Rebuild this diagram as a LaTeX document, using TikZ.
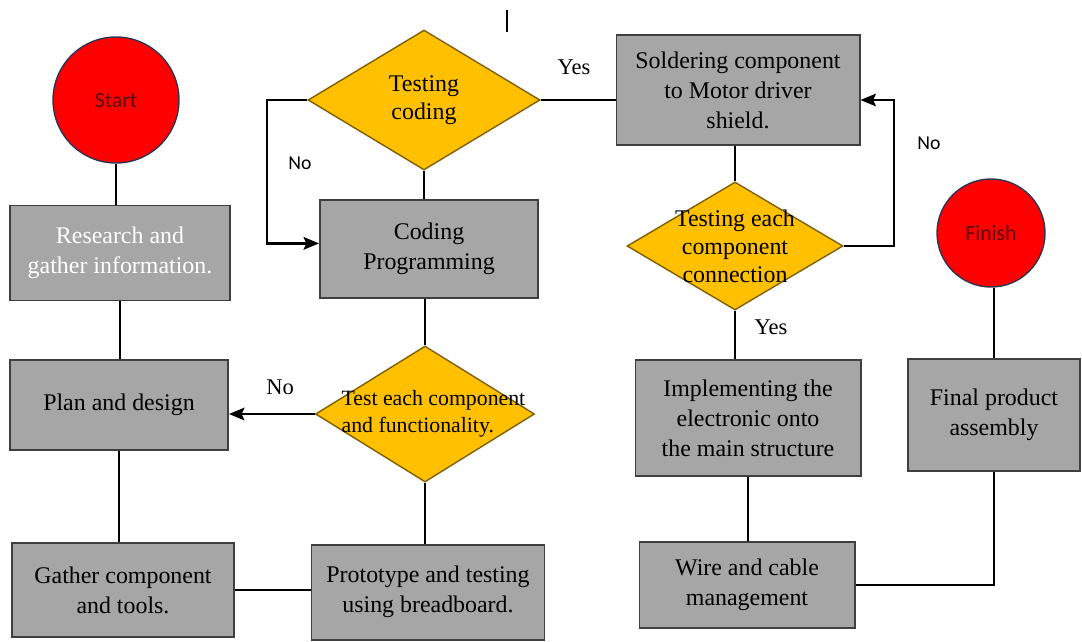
\documentclass[tikz,border=0pt]{standalone}
\usepackage{fontspec}
\setmainfont{Liberation Serif}
\newfontfamily\calibri{Carlito}
\usetikzlibrary{shapes}
\usetikzlibrary{shapes.geometric}
\usetikzlibrary{arrows}
\usetikzlibrary{arrows.meta}
\usetikzlibrary{positioning}

\definecolor{boxgray}{HTML}{A6A6A6}
\definecolor{boxline}{HTML}{3F3F3F}
\definecolor{decfill}{HTML}{FFC000}
\definecolor{decline}{HTML}{7F6000}
\definecolor{termline}{HTML}{2F3550}
\definecolor{termtext}{HTML}{5A0A0A}

\tikzset{
  procbox/.style={rectangle, draw=boxline, line width=1.4pt, fill=boxgray,
    align=center, font=\fontsize{17}{21.3}\selectfont, inner sep=0pt},
  decision/.style={diamond, draw=decline, line width=1pt, fill=decfill,
    inner sep=0pt, aspect=1.6},
  dtext/.style={align=center, font=\fontsize{17}{20}\selectfont},
  terminal/.style={circle, draw=termline, line width=1pt, fill=red,
    text=termtext, font=\calibri\fontsize{15.5}{18}\selectfont},
  lbl/.style={font=\fontsize{16}{18}\selectfont},
  sanslbl/.style={font=\calibri\fontsize{14}{16}\selectfont},
  link/.style={draw=black, line width=1pt},
  flow/.style={link, line width=1.6pt, -{Stealth[length=11pt, width=9pt, inset=2pt]}}
}

\begin{document}
\begin{tikzpicture}[x=0.025cm, y=-0.025cm]
  \useasboundingbox (0,0) rectangle (1082,641);

  % left column
  \node[terminal, minimum size=126*0.025cm] (start) at (116,100) {Start};
  \node[procbox, minimum width=220*0.025cm, minimum height=95*0.025cm,
    text=white] (research) at (120,253) {Research and\\gather information.};
  \node[procbox, minimum width=218*0.025cm, minimum height=90*0.025cm]
    (plan) at (119,405) {Plan and design};
  \node[procbox, minimum width=222*0.025cm, minimum height=94*0.025cm]
    (gather) at (123,590) {Gather component\\and tools.};

  % middle column
  \node[decision, minimum width=232*0.025cm, minimum height=140*0.025cm,
    label={[dtext]center:Testing\\coding}] (testcode) at (424,100) {};
  \node[procbox, minimum width=218*0.025cm, minimum height=98*0.025cm]
    (coding) at (429,249) {Coding\\Programming};
  \node[decision, minimum width=219*0.025cm, minimum height=136*0.025cm,
    label={[dtext, align=left, font=\fontsize{15.5}{19}\selectfont, xshift=6]center:Test each component\\and functionality.}]
    (testcomp) at (425,414) {};
  \node[procbox, minimum width=233*0.025cm, minimum height=95*0.025cm]
    (proto) at (428,592) {Prototype and testing\\using breadboard.};

  % right column
  \node[procbox, minimum width=243*0.025cm, minimum height=110*0.025cm]
    (solder) at (738,90) {Soldering component\\to Motor driver\\shield.};
  \node[decision, minimum width=216*0.025cm, minimum height=128*0.025cm,
    label={[dtext]center:Testing each\\component\\connection}] (testconn) at (735,246) {};
  \node[procbox, minimum width=225*0.025cm, minimum height=116*0.025cm]
    (implement) at (748,418) {Implementing the\\electronic onto\\the main structure};
  \node[procbox, minimum width=215*0.025cm, minimum height=86*0.025cm]
    (wire) at (747,585) {Wire and cable\\management};
  \node[terminal, minimum size=108*0.025cm] (finish) at (991,233) {Finish};
  \node[procbox, minimum width=172*0.025cm, minimum height=112*0.025cm]
    (final) at (994,415) {Final product\\assembly};

  % connectors
  \draw[link] (start.south) -- (start.south |- research.north);
  \draw[link] (research.south) -- (research.south |- plan.north);
  \draw[link] (plan.south) -- (plan.south |- gather.north);
  \draw[link] (gather.east) -- (gather.east -| proto.west);
  \draw[link] (testcomp.south |- proto.north) -- (testcomp.south);
  \draw[flow] (testcomp.west) -- (testcomp.west -| plan.east);
  \draw[link] (testcomp.north) -- (testcomp.north |- coding.south);
  \draw[link] (coding.north -| testcode.south) -- (testcode.south);
  \draw[flow] (testcode.west) -- ++(-40,0) |- ([yshift=4pt]coding.west);
  \draw[link] (testcode.east) -- (testcode.east -| solder.west);
  \draw[link] (solder.south -| testconn.north) -- (testconn.north);
  \draw[flow] (testconn.east) -- ++(50,0) |- (solder.east |- testcode.east);
  \draw[link] (testconn.south) -- (testconn.south |- implement.north);
  \draw[link] (implement.south) -- (implement.south |- wire.north);
  \draw[link] (wire.east) -| (final.south);
  \draw[link] (final.north) -- (final.north |- finish.south);
  \draw[link] (507,10) -- (507,32);

  % branch labels
  \node[lbl] (yes1) at (574,67) {Yes};
  \node[sanslbl] (no1) at (300,163) {No};
  \node[lbl] (no2) at (280,387) {No};
  \node[sanslbl] (no3) at (929,143) {No};
  \node[lbl] (yes2) at (771,327) {Yes};
\end{tikzpicture}
\end{document}
